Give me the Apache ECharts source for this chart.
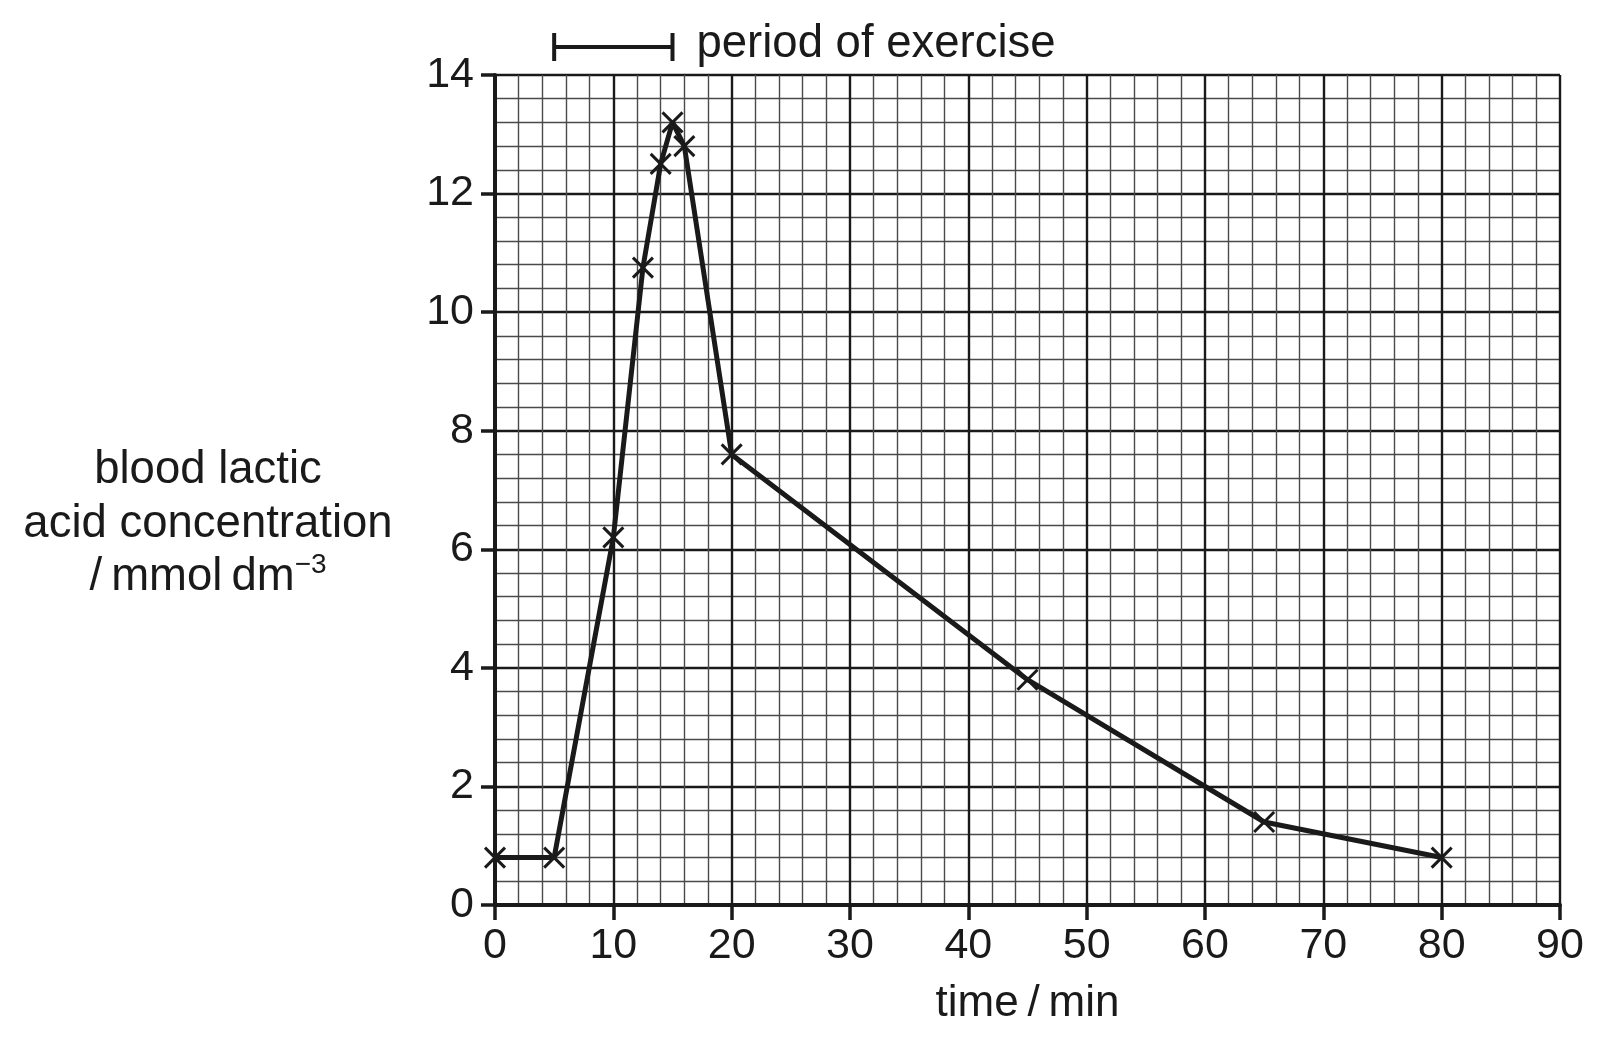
<!DOCTYPE html>
<html>
<head>
<meta charset="utf-8">
<script src="https://cdn.jsdelivr.net/npm/echarts@6/dist/echarts.min.js"></script>
<style>
html,body{margin:0;padding:0;background:#fff;}
#chart{width:1605px;height:1040px;}
</style>
</head>
<body>
<div id="chart"></div>
<script>
// ---- data ----
var times = [0, 5, 10, 12.5, 14, 15, 16, 20, 45, 65, 80];
var lactate = [0.8, 0.8, 6.2, 10.75, 12.5, 13.2, 12.8, 7.6, 3.8, 1.4, 0.8];
var exercisePeriod = [5, 15];
var exerciseLabel = 'period of exercise';
var xTicks = [0, 10, 20, 30, 40, 50, 60, 70, 80, 90];
var yTicks = [0, 2, 4, 6, 8, 10, 12, 14];
var xName = 'time\u2009/\u2009min';
var yNameLines = ['blood lactic', 'acid concentration', '/\u2009mmol\u2009dm'];
var yNameSup = '\u22123';

var FONT = '"Liberation Sans", Arial, Helvetica, sans-serif';
var INK = '#1a1a1a';

var chart = echarts.init(document.getElementById('chart'), null, {renderer: 'canvas'});
var lineData = times.map(function (t, i) { return [t, lactate[i]]; });
var crossPath = 'path://M0,0L10,10M10,0L0,10';

var option = {
  animation: false,
  backgroundColor: '#ffffff',
  title: {
    text: '{a|' + yNameLines[0] + '}\n{a|' + yNameLines[1] + '}\n{a|' + yNameLines[2] + '}{s|' + yNameSup + '}',
    left: 203,
    top: 439,
    textAlign: 'center',
    textStyle: {
      fontWeight: 'normal',
      rich: {
        a: {fontFamily: FONT, fontSize: 45.5, fontWeight: 'normal', color: INK, lineHeight: 53.5},
        s: {fontFamily: FONT, fontSize: 28, fontWeight: 'normal', color: INK, lineHeight: 53.5, verticalAlign: 'top', padding: [0, 0, 18, 0]}
      }
    }
  },
  grid: [
    {left: 495, right: 45, top: 75, bottom: 135, containLabel: false},
    {left: 495, right: 45, top: 33, height: 28, containLabel: false}
  ],
  xAxis: [
    {
      gridIndex: 0, type: 'value', min: xTicks[0], max: xTicks[xTicks.length - 1], interval: 10,
      name: xName, nameLocation: 'middle', nameGap: 77,
      nameTextStyle: {fontFamily: FONT, fontSize: 44, color: INK},
      axisLine: {show: true, onZero: false, lineStyle: {color: INK, width: 4}},
      axisTick: {show: true, length: 15, lineStyle: {color: INK, width: 3.5}},
      axisLabel: {fontFamily: FONT, fontSize: 43, color: INK, margin: 20},
      splitLine: {show: true, lineStyle: {color: INK, width: 2.4}},
      minorTick: {show: false, splitNumber: 5},
      minorSplitLine: {show: true, lineStyle: {color: '#4a4a4a', width: 1.4}}
    },
    {gridIndex: 1, type: 'value', min: 0, max: 90, show: false}
  ],
  yAxis: [
    {
      gridIndex: 0, type: 'value', min: yTicks[0], max: yTicks[yTicks.length - 1], interval: 2,
      axisLine: {show: true, onZero: false, lineStyle: {color: INK, width: 4}},
      axisTick: {show: true, length: 14, lineStyle: {color: INK, width: 3.5}},
      axisLabel: {fontFamily: FONT, fontSize: 43, color: INK, margin: 21},
      splitLine: {show: true, lineStyle: {color: INK, width: 2.4}},
      minorTick: {show: false, splitNumber: 5},
      minorSplitLine: {show: true, lineStyle: {color: '#4a4a4a', width: 1.4}}
    },
    {gridIndex: 1, type: 'value', min: -1, max: 1, show: false}
  ],
  series: [
    {
      type: 'line',
      xAxisIndex: 0, yAxisIndex: 0,
      data: lineData,
      smooth: false,
      symbol: crossPath,
      symbolSize: 20,
      itemStyle: {color: INK, borderColor: INK, borderWidth: 3},
      lineStyle: {color: INK, width: 5},
      z: 5
    },
    {
      type: 'line',
      xAxisIndex: 1, yAxisIndex: 1,
      data: [
        [exercisePeriod[0], 0],
        {value: [exercisePeriod[1], 0], label: {show: true, position: 'right', distance: 22, offset: [0, -3],
          formatter: exerciseLabel, fontFamily: FONT, fontSize: 45.5, color: INK}}
      ],
      symbol: 'rect',
      symbolSize: [4, 28],
      itemStyle: {color: INK},
      lineStyle: {color: INK, width: 4},
      clip: false
    }
  ]
};
chart.setOption(option);
</script>
</body>
</html>
